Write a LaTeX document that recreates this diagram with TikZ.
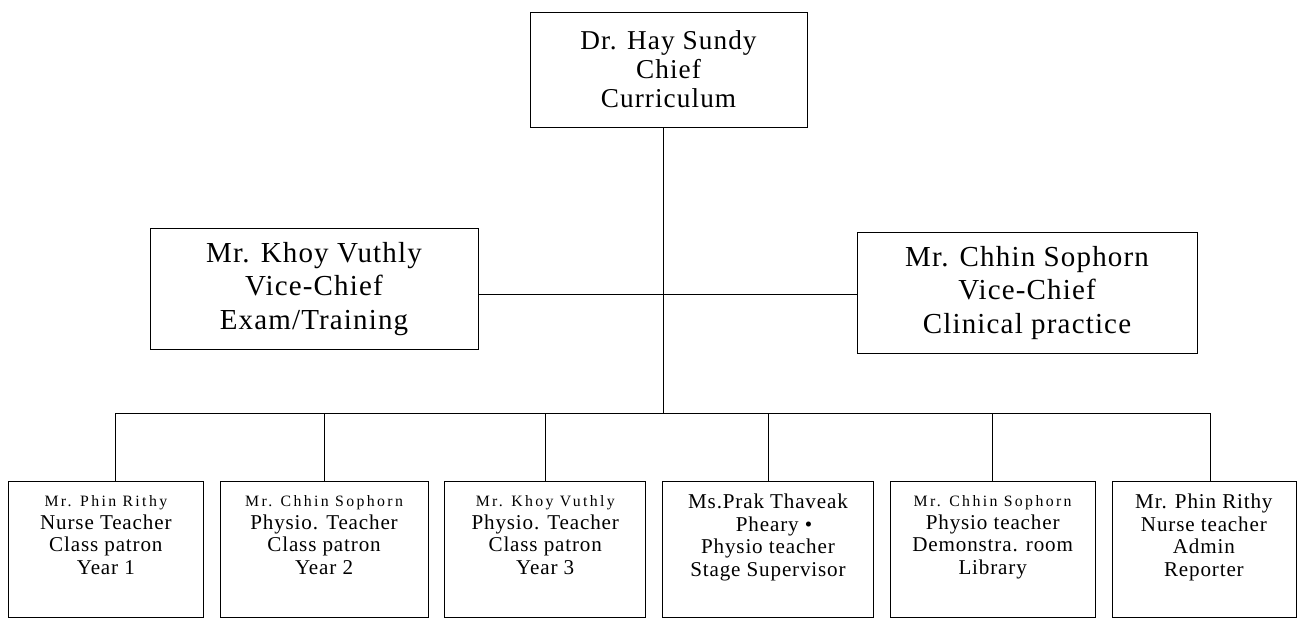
\documentclass[tikz,border=0pt]{standalone}
\usepackage{fontspec}
\setmainfont{Liberation Serif}[LetterSpace=4]
\usepackage{tikz}
\usetikzlibrary{positioning}
\tikzset{
line width=0.9pt, % all rules and frames
node distance=0.32cm, % gap between the teacher boxes
headbox/.style={draw, align=center, inner sep=0pt, minimum width=5.54cm, minimum height=2.3cm, font=\fontsize{15.5}{16.5}\selectfont},
vicebox/.style={draw, align=center, inner sep=0pt, minimum height=2.42cm, font=\fontsize{16.5}{19.3}\selectfont},
teachbox/.style={draw, align=center, inner sep=0pt, minimum height=2.72cm, text depth=0.55cm, font=\fontsize{12}{12.8}\selectfont},
}
\newcommand{\tname}[1]{{\fontsize{9}{11}\selectfont\addfontfeature{LetterSpace=15}#1}}

\begin{document}
\begin{tikzpicture}
        \useasboundingbox (0,0) rectangle (25.98,-12.48);
        \node[headbox] (chief) at (13.37,-1.39) {Dr. Hay Sundy\\Chief\\Curriculum};
        \node[vicebox, minimum width=6.56cm] (vl) at (6.28,-5.78) {Mr. Khoy Vuthly\\Vice-Chief\\Exam/Training};
        \node[vicebox, minimum width=6.8cm] (vr) at (20.54,-5.86) {Mr. Chhin Sophorn\\Vice-Chief\\Clinical practice};
        \coordinate (bus) at (13.26,-8.26);
        % teachers
        \node[teachbox, minimum width=3.9cm, anchor=west] (t1) at (0.16,-10.98) {\tname{Mr. Phin Rithy}\\Nurse Teacher\\Class patron\\Year 1};
        \node[teachbox, minimum width=4.16cm, right=of t1] (t2) {\tname{Mr. Chhin Sophorn}\\Physio. Teacher\\Class patron\\Year 2};
        \node[teachbox, minimum width=4.02cm, right=of t2] (t3) {\tname{Mr. Khoy Vuthly}\\Physio. Teacher\\Class patron\\Year 3};
        \node[teachbox, minimum width=4.22cm, right=of t3] (t4) {Ms.Prak Thaveak\\\ \ Pheary •\\Physio teacher\\Stage Supervisor};
        \node[teachbox, minimum width=4.1cm, right=of t4] (t5) {\tname{Mr. Chhin Sophorn}\\Physio teacher\\Demonstra. room\\Library};
        \node[teachbox, minimum width=3.68cm, right=of t5] (t6) {Mr. Phin Rithy\\Nurse teacher\\Admin\\Reporter};
        \draw
        (chief.south -| bus) -- (bus)
        ([yshift=-0.1cm]vl.east) -- ([yshift=-0.1cm]vl.east -| vr.west)
        %drops to the teachers
        (bus) -| ([xshift=0.18cm]t1.north)
        (bus) -| (t2.north)
        (bus) -| (t3.north)
        (bus) -| (t4.north)
        (bus) -| (t5.north)
        (bus) -| ([xshift=0.12cm]t6.north)
        ;\end{tikzpicture}
\end{document}
